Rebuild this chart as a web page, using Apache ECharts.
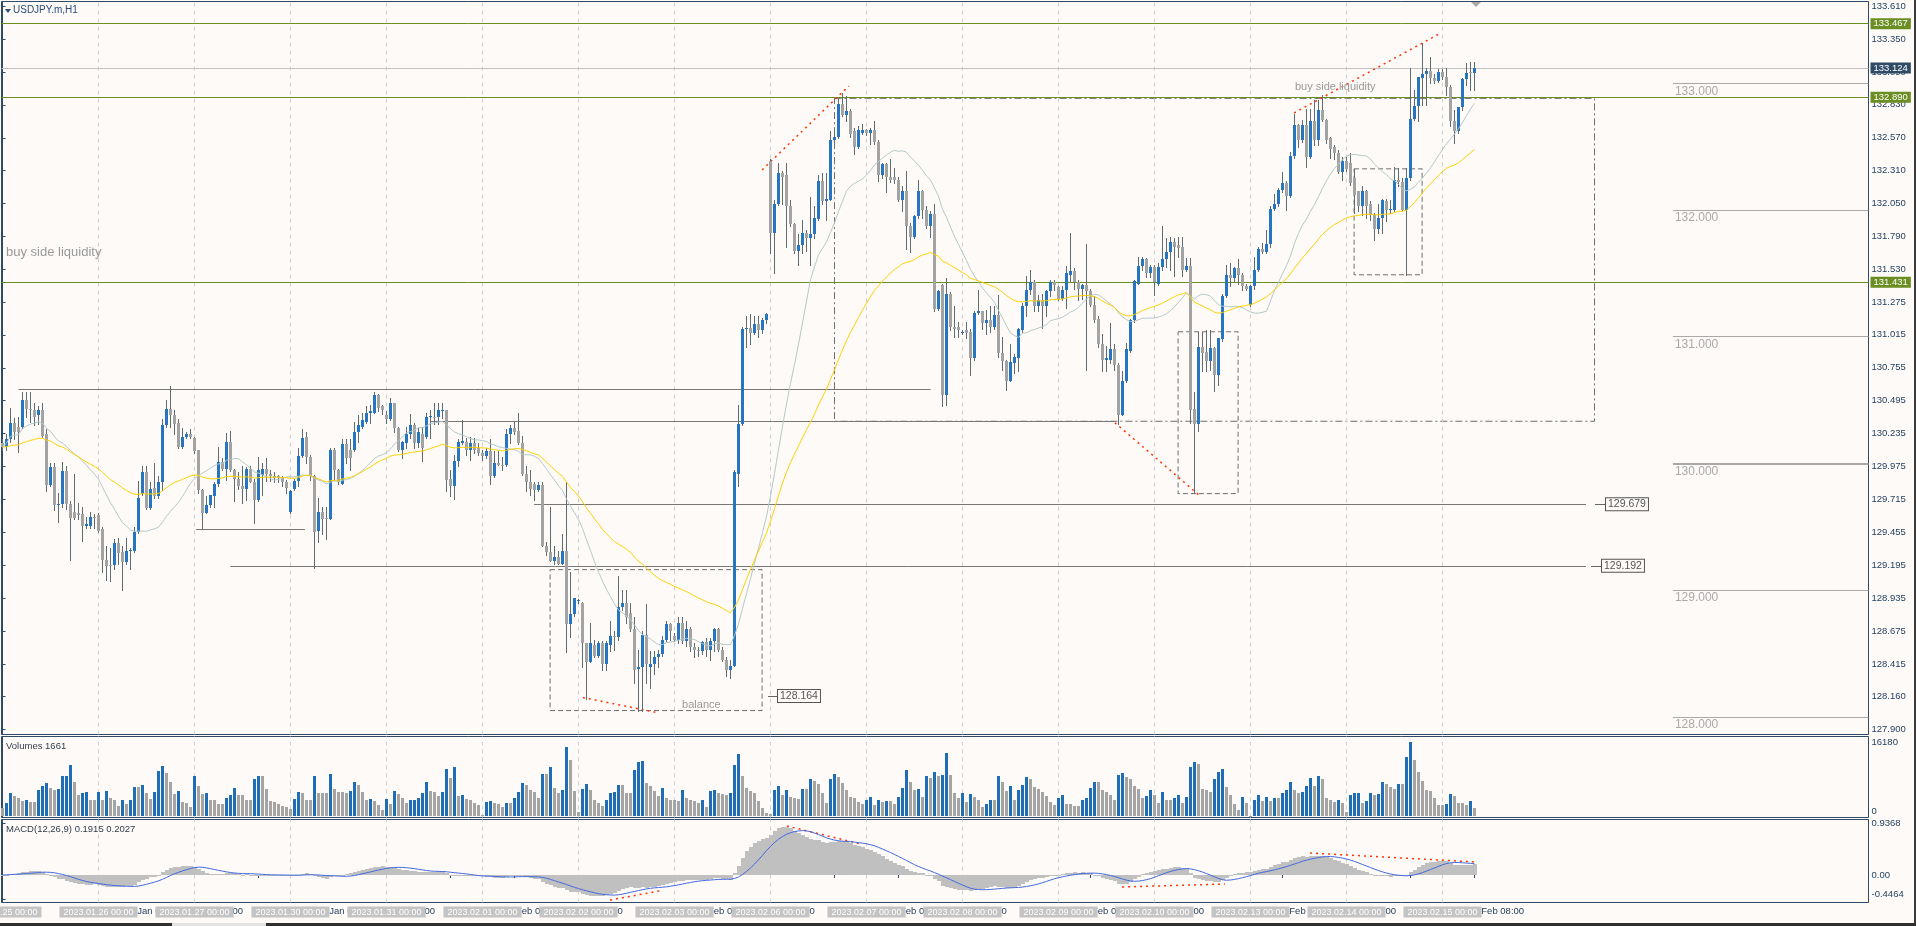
<!DOCTYPE html>
<html>
<head>
<meta charset="utf-8">
<title>USDJPY.m,H1</title>
<script src="https://cdn.jsdelivr.net/npm/echarts@6.0.0/dist/echarts.min.js"></script>
<style>
html,body{margin:0;padding:0;background:#fdfaf8;overflow:hidden;}
#chart{width:1916px;height:926px;}
</style>
</head>
<body>
<div id="chart"></div>
<script>
// ---------------- DATA (USDJPY.m, H1, 2023.01.25 00:00 -> 2023.02.15 08:00) ----------------
const days = ['2023.01.25','2023.01.26','2023.01.27','2023.01.30','2023.01.31','2023.02.01','2023.02.02','2023.02.03',
  '2023.02.06','2023.02.07','2023.02.08','2023.02.09','2023.02.10','2023.02.13','2023.02.14','2023.02.15'];

const opens = [
130.16,130.13,130.19,130.32,130.29,130.29,130.50,130.43,130.42,130.38,
130.42,130.23,129.83,129.97,129.67,129.68,129.94,129.68,129.62,129.61,
129.60,129.51,129.51,129.58,129.59,129.48,129.24,129.20,129.20,129.37,
129.30,129.22,129.31,129.31,129.46,129.76,129.93,129.65,129.81,129.74,
129.85,130.30,130.43,130.38,130.32,130.13,130.21,130.23,130.20,130.11,
129.79,129.61,129.67,129.74,129.84,130.01,129.96,130.17,129.95,129.88,
129.82,129.80,129.96,129.85,129.71,129.91,129.96,129.92,129.90,129.90,
129.895,129.85,129.62,129.80,129.86,130.06,130.21,130.05,129.90,129.47,
129.62,129.57,129.56,130.11,129.95,129.84,130.15,130.11,130.11,130.25,
130.29,130.33,130.40,130.40,130.54,130.45,130.38,130.35,130.48,130.28,
130.11,130.16,130.23,130.30,130.16,130.23,130.21,130.37,130.37,130.37,
130.42,130.42,129.88,129.82,130.02,130.16,130.17,130.11,130.16,130.12,
130.08,130.06,130.10,129.90,130.00,129.99,129.99,130.23,130.28,130.26,
130.16,129.92,129.85,129.84,129.79,129.83,129.35,129.30,129.23,129.26,
129.21,129.31,128.73,128.81,128.92,128.90,128.58,128.43,128.57,128.48,
128.58,128.42,128.57,128.64,128.63,128.87,128.90,128.82,128.69,128.38,
128.39,128.65,128.39,128.42,128.47,128.50,128.61,128.73,128.64,128.61,
128.74,128.60,128.69,128.55,128.53,128.52,128.59,128.53,128.60,128.69,
128.53,128.45,128.37,128.40,129.92,130.31,131.06,131.07,131.03,131.10,
131.05,131.13,132.39,131.82,132.05,132.29,132.28,132.03,131.89,131.68,
131.72,131.82,131.78,131.81,131.93,132.23,132.07,132.08,132.55,132.58,
132.84,132.75,132.78,132.62,132.50,132.61,132.63,132.61,132.63,132.54,
132.28,132.36,132.26,132.26,132.24,132.08,132.15,131.87,131.79,131.95,
132.15,132.00,131.87,131.97,131.22,131.41,130.54,131.34,131.08,131.08,
131.03,131.05,131.04,130.83,131.19,131.20,131.11,131.13,131.08,131.17,
130.87,130.81,130.65,130.79,130.83,131.05,131.24,131.37,131.43,131.24,
131.29,131.24,131.36,131.43,131.39,131.30,131.37,131.49,131.52,131.43,
131.38,131.41,131.36,131.25,131.14,130.94,130.82,130.82,130.90,130.78,
130.38,130.65,130.89,131.13,131.42,131.56,131.61,131.50,131.55,131.42,
131.55,131.61,131.67,131.75,131.72,131.71,131.53,131.56,130.43,130.31,
130.92,130.88,130.81,130.91,130.70,130.98,131.32,131.49,131.46,131.54,
131.49,131.40,131.25,131.40,131.53,131.69,131.67,131.73,132.01,132.05,
132.16,132.21,132.11,132.43,132.67,132.55,132.67,132.42,132.70,132.55,
132.79,132.71,132.57,132.50,132.45,132.30,132.39,132.37,132.25,132.15,
132.03,132.15,132.05,131.96,131.85,131.94,132.07,132.00,132.00,132.24,
132.22,132.00,132.25,132.72,132.82,133.04,133.07,133.10,133.04,133.02,
133.09,133.05,132.97,132.70,132.62,132.81,133.03,133.09,133.08];

const highs = [
130.19,130.23,130.44,130.36,130.37,130.56,130.56,130.56,130.48,130.45,
130.48,130.27,130.00,130.00,129.77,130.01,129.98,129.70,129.92,129.69,
129.66,129.58,129.62,129.60,129.61,129.50,129.35,129.33,129.40,129.41,
129.35,129.41,129.33,129.50,129.86,129.98,129.98,129.85,130.00,129.90,
130.35,130.50,130.61,130.42,130.35,130.28,130.25,130.27,130.21,130.11,
129.80,129.74,129.75,129.85,130.13,130.04,130.24,130.26,129.96,129.93,
129.98,129.97,129.98,129.88,130.05,130.00,130.04,129.95,129.93,129.91,
129.90,129.87,129.79,129.88,130.12,130.27,130.25,130.07,129.91,129.73,
129.66,129.66,130.12,130.12,129.96,130.19,130.19,130.19,130.33,130.38,
130.40,130.45,130.46,130.56,130.55,130.46,130.41,130.52,130.48,130.29,
130.18,130.29,130.39,130.32,130.28,130.29,130.40,130.42,130.48,130.48,
130.48,130.42,129.95,130.07,130.19,130.34,130.20,130.21,130.20,130.16,
130.11,130.12,130.19,130.10,130.10,130.05,130.27,130.30,130.33,130.40,
130.22,129.98,129.95,129.85,129.85,129.85,129.38,129.66,129.35,129.31,
129.44,129.85,129.14,128.94,128.93,128.91,128.58,128.74,128.61,128.60,
128.60,128.60,128.76,128.68,129.11,129.00,129.00,128.90,128.79,128.53,
128.68,128.89,128.52,128.52,128.53,128.64,128.76,128.74,128.66,128.79,
128.79,128.76,128.71,128.58,128.55,128.60,128.62,128.62,128.70,128.70,
128.55,128.47,128.45,129.95,130.46,131.08,131.16,131.18,131.16,131.16,
131.15,131.19,132.40,132.08,132.37,132.31,132.37,132.08,131.90,131.81,
131.92,131.84,132.10,132.03,132.28,132.29,132.29,132.62,132.62,132.88,
132.92,132.90,132.80,132.65,132.66,132.68,132.64,132.65,132.70,132.55,
132.37,132.37,132.40,132.33,132.26,132.19,132.31,131.90,131.96,132.24,
132.16,132.03,131.99,132.05,131.37,131.42,131.46,131.35,131.24,131.12,
131.05,131.12,131.06,131.20,131.37,131.20,131.21,131.24,131.24,131.33,
131.00,130.82,130.94,130.86,131.07,131.27,131.48,131.53,131.45,131.33,
131.34,131.37,131.45,131.45,131.40,131.40,131.56,131.82,131.54,131.45,
131.42,131.73,131.38,131.32,131.16,131.02,130.93,131.11,130.94,130.79,
130.73,130.95,131.14,131.45,131.63,131.63,131.62,131.57,131.57,131.58,
131.87,131.78,131.79,131.78,131.79,131.79,131.62,131.62,130.56,131.04,
131.04,131.05,131.05,130.92,130.99,131.34,131.57,131.58,131.55,131.61,
131.50,131.42,131.41,131.63,131.71,131.74,131.84,132.03,132.13,132.17,
132.30,132.23,132.46,132.76,132.68,132.71,132.80,132.80,132.87,132.87,
132.91,132.72,132.58,132.51,132.47,132.42,132.42,132.45,132.32,132.15,
132.19,132.16,132.07,131.98,132.05,132.09,132.09,132.08,132.34,132.33,
132.25,132.33,133.12,132.95,133.05,133.32,133.12,133.21,133.07,133.11,
133.11,133.12,132.99,132.79,132.81,133.04,133.16,133.17,133.17];

const lows = [
130.11,130.11,130.17,130.19,130.09,130.28,130.37,130.33,130.30,130.31,
130.21,129.78,129.82,129.63,129.54,129.66,129.64,129.24,129.56,129.56,
129.39,129.49,129.49,129.49,129.46,129.14,129.08,129.07,129.17,129.21,
129.00,129.21,129.17,129.30,129.45,129.75,129.64,129.64,129.73,129.73,
129.79,130.29,130.29,130.23,130.12,130.12,130.20,130.20,130.08,129.77,
129.48,129.61,129.66,129.66,129.82,129.95,129.87,129.94,129.70,129.80,
129.69,129.71,129.85,129.53,129.70,129.75,129.86,129.86,129.85,129.85,
129.82,129.77,129.61,129.79,129.82,130.05,130.00,129.87,129.175,129.38,
129.44,129.40,129.56,129.87,129.84,129.84,130.00,129.95,130.10,130.17,
130.28,130.32,130.32,130.40,130.41,130.39,130.32,130.34,130.25,130.10,
130.04,130.12,130.20,130.12,130.13,130.02,130.20,130.20,130.31,130.31,
130.36,129.78,129.74,129.72,129.98,130.15,130.07,130.03,130.08,130.07,
130.03,130.04,129.84,129.89,129.99,129.95,129.98,130.16,130.23,130.15,
129.91,129.78,129.75,129.71,129.78,129.35,129.28,129.23,129.21,129.21,
129.21,128.51,128.63,128.80,128.90,128.39,128.14,128.43,128.47,128.47,
128.37,128.37,128.52,128.53,128.61,128.84,128.74,128.68,128.27,128.05,
128.05,128.27,128.23,128.34,128.39,128.48,128.60,128.61,128.60,128.58,
128.58,128.56,128.52,128.47,128.48,128.50,128.48,128.45,128.52,128.52,
128.44,128.32,128.31,128.40,129.82,130.30,130.92,130.94,131.02,131.00,
131.03,131.11,131.66,131.50,132.04,132.05,131.71,131.87,131.66,131.57,
131.66,131.68,131.57,131.78,131.92,132.05,131.92,132.08,132.52,132.57,
132.74,132.70,132.58,132.44,132.49,132.60,132.59,132.52,132.52,132.23,
132.25,132.14,132.22,132.21,132.07,131.99,131.69,131.67,131.78,131.94,
131.94,131.86,131.79,131.20,131.21,130.45,130.46,131.05,131.00,131.00,
131.02,130.99,130.70,130.82,131.18,131.06,131.02,131.04,131.06,130.84,
130.74,130.58,130.65,130.71,130.73,131.04,131.16,131.34,131.20,131.20,
131.07,131.16,131.32,131.37,131.29,131.29,131.23,131.44,131.38,131.29,
131.30,130.74,131.24,131.12,130.92,130.73,130.73,130.79,130.74,130.31,
130.38,130.64,130.88,131.12,131.42,131.53,131.47,131.47,131.33,131.41,
131.53,131.55,131.53,131.48,131.63,131.48,131.52,130.32,129.77,130.26,
130.73,130.73,130.74,130.57,130.62,130.97,131.31,131.40,131.44,131.42,
131.37,131.37,131.24,131.38,131.52,131.66,131.66,131.71,132.00,132.03,
132.14,132.00,132.10,132.41,132.50,132.54,132.34,132.41,132.51,132.51,
132.70,132.53,132.41,132.40,132.29,132.24,132.31,132.20,131.98,131.99,
131.96,131.94,131.92,131.76,131.82,131.82,131.91,131.98,131.99,132.19,
132.00,131.49,132.24,132.71,132.70,132.83,132.83,133.00,133.00,133.01,
133.03,132.91,132.66,132.53,132.61,132.79,132.99,132.95,132.95];

const closes = [
130.13,130.19,130.32,130.25,130.25,130.50,130.43,130.42,130.37,130.42,
130.22,129.83,129.97,129.67,129.68,129.94,129.68,129.57,129.57,129.59,
129.51,129.52,129.58,129.575,129.47,129.24,129.19,129.19,129.37,129.29,
129.22,129.31,129.32,129.46,129.73,129.93,129.65,129.80,129.74,129.85,
130.30,130.43,130.38,130.31,130.13,130.21,130.23,130.21,130.10,129.79,
129.61,129.67,129.75,129.84,130.01,129.96,130.17,129.95,129.88,129.82,
129.80,129.96,129.85,129.71,129.95,129.96,129.92,129.90,129.885,129.885,
129.85,129.81,129.78,129.86,130.06,130.20,130.05,129.90,129.46,129.62,
129.56,129.56,130.11,129.95,129.85,130.15,130.04,130.04,130.25,130.30,
130.34,130.40,130.41,130.54,130.44,130.42,130.35,130.48,130.28,130.11,
130.17,130.23,130.30,130.16,130.25,130.12,130.37,130.375,130.365,130.42,
130.425,129.87,129.82,130.02,130.17,130.18,130.11,130.16,130.11,130.08,
130.06,130.10,129.90,130.00,129.99,129.985,130.23,130.28,130.25,130.16,
129.92,129.85,129.80,129.79,129.83,129.35,129.30,129.23,129.26,129.21,
129.31,128.73,128.81,128.94,128.92,128.58,128.43,128.58,128.48,128.58,
128.42,128.58,128.64,128.63,128.87,128.90,128.79,128.69,128.37,128.39,
128.65,128.42,128.42,128.47,128.50,128.61,128.73,128.68,128.61,128.74,
128.60,128.69,128.55,128.53,128.52,128.59,128.53,128.60,128.69,128.53,
128.45,128.37,128.40,129.93,130.31,131.06,131.07,131.03,131.10,131.05,
131.13,131.18,131.82,132.05,132.29,132.26,132.03,131.89,131.68,131.72,
131.82,131.78,131.81,131.94,132.23,132.07,132.09,132.55,132.58,132.84,
132.75,132.78,132.60,132.50,132.63,132.63,132.61,132.63,132.54,132.28,
132.36,132.26,132.24,132.24,132.08,132.15,131.87,131.79,131.95,132.15,
132.00,131.87,131.97,131.22,131.36,130.54,131.34,131.08,131.06,131.055,
131.04,131.03,130.83,131.19,131.20,131.11,131.13,131.08,131.17,130.87,
130.81,130.65,130.80,130.84,131.06,131.24,131.37,131.43,131.24,131.29,
131.24,131.36,131.43,131.41,131.30,131.37,131.50,131.52,131.43,131.38,
131.41,131.36,131.25,131.13,130.94,130.82,130.83,130.90,130.78,130.38,
130.65,130.90,131.13,131.44,131.56,131.61,131.50,131.55,131.43,131.55,
131.61,131.67,131.75,131.71,131.70,131.53,131.56,130.42,130.31,130.92,
130.87,130.81,130.91,130.70,130.99,131.32,131.49,131.46,131.54,131.49,
131.40,131.38,131.40,131.53,131.69,131.67,131.73,132.01,132.05,132.16,
132.21,132.11,132.43,132.67,132.55,132.67,132.42,132.70,132.55,132.79,
132.71,132.55,132.48,132.45,132.30,132.39,132.32,132.21,132.12,132.03,
132.15,132.03,131.96,131.85,131.94,132.08,132.00,132.01,132.24,132.22,
132.00,132.25,132.72,132.82,133.05,133.07,133.10,133.04,133.02,133.09,
133.05,132.97,132.70,132.62,132.81,133.03,133.08,133.08,133.124];

const volumes = [
1840,2920,5100,4280,3940,3260,3400,3060,3060,5640,
6530,7140,6120,5640,5980,8700,8840,11080,7480,4490,
4960,5300,3600,3470,5170,3470,5510,3940,3400,2240,
3400,2580,3400,6320,6320,6870,4960,3740,5300,9860,
10950,9380,7480,4760,5440,3060,2920,2040,8840,6660,
4760,4960,3470,3470,2720,2580,3940,4620,6120,4620,
4620,3600,3600,8020,8700,8700,5980,3260,3130,2720,
2240,1900,1430,3810,5170,4960,3600,3400,8700,5100,
5100,5100,9180,5980,5300,5300,4960,5440,7340,6870,
5300,3600,3810,3260,2450,1360,3740,2720,5510,4760,
3940,2920,3470,3600,3940,5100,7480,5510,5300,4280,
5300,10270,8360,10610,4280,4620,3740,3600,2920,2450,
200,3060,3260,2790,2580,1900,2920,2920,3940,5300,
7140,6870,5640,5300,3940,9250,9180,10740,6120,4960,
5640,15160,12310,5440,880,5980,7000,5640,3600,2790,
2240,3600,5100,5300,6870,6870,5100,4960,10060,11760,
12100,7140,6530,5440,4420,6190,3940,3600,3600,3260,
5640,3940,3600,3260,2920,3470,1900,5440,5780,4960,
4830,4620,5100,11220,13460,8700,6120,5440,5100,3260,
1770,680,540,5780,6660,4620,5640,4080,3940,3810,
5980,5980,8020,7680,7000,4960,2920,8020,9250,8500,
7210,5640,4080,3940,3060,2720,3600,4080,2450,3600,
3130,3260,3260,2720,4080,6120,10060,7480,5780,5980,
4080,8700,8360,9520,8700,9040,13670,9040,4960,3940,
5100,3060,4760,4150,3600,1900,2580,3600,3600,8840,
7340,5440,6530,3600,5640,6800,8500,8020,6320,5980,
5300,4280,3060,2450,3940,4620,2720,2720,2240,2240,
3600,3940,6120,7480,7340,5640,5300,4620,3600,9040,
9380,8500,8020,6660,5980,3940,4280,5640,4500,2920,
5300,3600,3400,3940,4620,2920,4080,10740,11780,11450,
5980,5780,5300,8020,9730,10200,6320,4620,2720,1220,
4080,2920,100,3600,4620,3260,4080,3260,3940,3940,
5100,5640,7340,5640,4960,5300,6660,8360,6660,8700,
8020,3940,3600,3130,3470,2920,880,4620,4960,5100,
2920,3260,4960,4620,4760,7340,7000,6320,5850,7000,
7000,12920,16180,12240,9730,7680,5640,5440,3940,2450,
2450,2720,4760,4280,2920,2920,2450,3260,1661];

// right-axis tick labels (as printed by the terminal)
const priceTicks = [133.610,133.350,133.090,132.830,132.570,132.310,132.050,131.790,131.530,131.275,131.015,
  130.755,130.495,130.235,129.975,129.715,129.455,129.195,128.935,128.675,128.415,128.160,127.900];
const volumeTickTop = 16180;
const macdTicks = [0.9368, 0];
const macdTickBottom = -0.4464;
const macdTitle = 'MACD(12,26,9) 0.1915 0.2027';

// chart objects (time in bar index, price in yen)
const greenLevels = [133.467, 132.890, 131.431];
const bidPrice = 133.124;
const roundLevels = [133, 132, 131, 130, 129, 128];
const roundStartBar = 417.6;
const srLevels = [
  {price:130.582, from:4, to:232},
  {price:130.330, from:107, to:278},
  {price:129.483, from:48.4, to:75.6},
  {price:129.192, from:57, to:395.875},
  {price:129.679, from:132.9, to:395.875},
  {price:128.164, from:-0.5, to:191.125}
];
const priceTags = [
  {price:129.679, from:398.125, to:400.625},
  {price:129.192, from:397.125, to:399.625},
  {price:128.164, from:191.375, to:193.625}
];
const boxes = [
  {x1:136.9, x2:189.9, p1:129.162, p2:128.050, dash:[5,3]},
  {x1:208.0, x2:398.0, p1:132.881, p2:130.333, dash:[7,3,2,3]},
  {x1:293.9, x2:308.9, p1:131.039, p2:129.762, dash:[5,3]},
  {x1:337.9, x2:354.9, p1:132.325, p2:131.489, dash:[5,3]}
];
const trendLines = [
  [145.1,128.153,163.6,128.034],
  [189.9,132.317,211.6,132.979],
  [278.1,130.321,299.6,129.738],
  [322.9,132.766,359.6,133.397]
];
const macdTrendLines = [
  [151.9,-0.455,164.6,-0.285],
  [196.1,0.891,214.6,0.564],
  [279.9,-0.218,305.6,-0.164],
  [326.9,0.400,368.4,0.236]
];
const annotations = [
  {text:'buy side liquidity', bar:0.875, price:131.662, size:13},
  {text:'buy side liquidity', bar:323.1, price:132.970, size:11},
  {text:'balance', bar:169.9, price:128.097, size:11}
];

// ---------------- INDICATORS (computed from the closes) ----------------
function sma(src, n){
  return src.map((_, i) => { const s = Math.max(0, i - n + 1); let t = 0; for (let k = s; k <= i; k++) t += src[k]; return t / (i - s + 1); });
}
function ema(src, n){
  const k = 2 / (n + 1); let e = src[0];
  return src.map((v, i) => (e = i === 0 ? v : e + k * (v - e)));
}
const N = closes.length;
const ma20 = sma(closes, 20);
const ma50 = ema(closes, 50);
const e12 = ema(closes, 12), e26 = ema(closes, 26);
const macdMain = e12.map((v, i) => v - e26[i]);
const macdSignal = sma(macdMain, 9);

// ---------------- CHART ----------------
const FONT = '"Liberation Sans", Arial, sans-serif';
const AXIS = '#2d4b66', TXT = '#1d3b5a', BG = '#fdfaf8';
const X_MIN = -0.25, X_MAX = X_MIN + 1867 / 4;
const LABEL_SHIFT = -1.6;   // time text offset relative to its tick mark (in bars)
const monthName = {'01':'Jan','02':'Feb'};
const timeTicks = []; for (let b = 0; b < N; b += 16) timeTicks.push(b);
const dayTicks = days.map((_, k) => 24 * k);
function timeLabel(b){
  const d = days[Math.floor(b / 24)]; if (!d) return '';
  const [y, m, dd] = d.split('.'); const h = b % 24;
  if (b === 0) return parseInt(dd) + ' ' + monthName[m] + ' ' + y;
  return parseInt(dd) + ' ' + monthName[m] + ' ' + String(h).padStart(2, '0') + ':00';
}

function baseX(grid){
  return {type:'value', gridIndex:grid, position:'bottom', min:X_MIN, max:X_MAX, axisLine:{show:false}, axisTick:{show:false},
    axisLabel:{show:false}, splitLine:{show:false}};
}
const dayLineItems = dayTicks.slice(1).map(b => ({xAxis:b, lineStyle:{color:'#cfcfcf', type:[4,4], width:1}}));

function seg(x1, p1, x2, p2, lineStyle, label){
  return [{coord:[x1, p1], lineStyle, label: label || {show:false}}, {coord:[x2, p2]}];
}

const mainMarkLines = [].concat(
  dayLineItems,
  roundLevels.map(p => seg(roundStartBar, p, X_MAX, p, {color:'#a9a9a9', width: p === 130 ? 2 : 1, type:'solid'},
    {show:true, position:'insideStartBottom', formatter: p.toFixed(3), color:'#a9a9a9', fontSize:12, fontFamily:FONT, distance:2})),
  srLevels.map(s => seg(s.from, s.price, s.to, s.price, {color:'#777', width:1, type:'solid'})),
  priceTags.map(t => seg(t.from, t.price, t.to, t.price, {color:'#666', width:1, type:'solid'},
    {show:true, position:'end', distance:1, formatter: t.price.toFixed(3), color:'#555', fontSize:10.5, fontFamily:FONT,
     backgroundColor:BG, borderColor:'#555', borderWidth:1, padding:[1,2,0,2]})),
  [{yAxis:bidPrice, lineStyle:{color:'#c2c2c2', width:1, type:'solid'},
    label:{show:true, position:'end', distance:2, formatter: bidPrice.toFixed(3), color:'#fff', backgroundColor:'#2f4b65',
      padding:[1,3,0,3], fontSize:9.5, fontFamily:FONT}}],
  greenLevels.map(p => ({yAxis:p, lineStyle:{color:'#6b8e23', width:1, type:'solid'},
    label:{show:true, position:'end', distance:2, formatter: p.toFixed(3), color:'#fff', backgroundColor:'#6b8e23',
      padding:[1,3,0,3], fontSize:9.5, fontFamily:FONT}})),
  trendLines.map(t => seg(t[0], t[1], t[2], t[3], {color:'#ff3300', width:1.5, type:[2,4]}))
);

const gridBase = {left:1.5, width:1867, show:true, borderColor:AXIS, borderWidth:1, backgroundColor:'transparent',
  containLabel:false, outerBoundsMode:'none'};

const chart = echarts.init(document.getElementById('chart'), null, {renderer:'canvas'});
const option = {
  animation:false,
  backgroundColor:BG,
  textStyle:{fontFamily:FONT},
  grid:[
    Object.assign({}, gridBase, {top:1.5, height:733}),
    Object.assign({}, gridBase, {top:736.5, height:81}),
    Object.assign({}, gridBase, {top:819.5, height:83})
  ],
  xAxis:[
    baseX(0), baseX(1),
    Object.assign(baseX(2), {
      axisTick:{show:true, customValues:timeTicks, length:3, lineStyle:{color:AXIS}}
    }),
    Object.assign(baseX(2), {
      axisLabel:{show:true, customValues:timeTicks.map(b => b + LABEL_SHIFT), formatter:v => timeLabel(Math.round(v - LABEL_SHIFT)),
        align:'left', margin:4, color:TXT, fontSize:9.5, fontFamily:FONT}
    }),
    Object.assign(baseX(2), {
      z:10,
      axisLabel:{show:true, customValues:dayTicks, formatter:v => days[Math.round(v / 24)] + ' 00:00', align:'center', margin:4,
        color:'#ffffff', backgroundColor:'#c4c4c4', padding:[1,4,0,4], lineHeight:10, fontSize:9, fontFamily:FONT}
    })
  ],
  yAxis:[
    {type:'value', gridIndex:0, position:'right', min:127.861, max:133.6455, splitLine:{show:false},
      axisLine:{show:true, lineStyle:{color:AXIS}},
      axisTick:{show:true, customValues:priceTicks, length:3, lineStyle:{color:AXIS}},
      axisLabel:{customValues:priceTicks, formatter:v => v.toFixed(3), color:TXT, fontSize:9.5, fontFamily:FONT, margin:3}},
    {type:'value', gridIndex:1, position:'right', min:-328, max:17383, splitLine:{show:false},
      axisLine:{show:true, lineStyle:{color:AXIS}},
      axisTick:{show:false},
      axisLabel:{customValues:[volumeTickTop], formatter:v => String(Math.round(v)), color:TXT, fontSize:9.5, fontFamily:FONT, margin:3}},
    {type:'value', gridIndex:1, position:'right', min:-328, max:17383, splitLine:{show:false},
      axisLine:{show:false}, axisTick:{show:false},
      axisLabel:{customValues:[0], formatter:() => '0', verticalAlign:'bottom', color:TXT, fontSize:9.5, fontFamily:FONT, margin:3}},
    {type:'value', gridIndex:2, position:'right', min:-0.5, max:1.0091, splitLine:{show:false},
      axisLine:{show:true, lineStyle:{color:AXIS}},
      axisTick:{show:true, customValues:macdTicks, length:3, lineStyle:{color:AXIS}},
      axisLabel:{customValues:macdTicks, formatter:v => (Math.abs(v) < 1e-9 ? '0.00' : v.toFixed(4)), color:TXT, fontSize:9.5, fontFamily:FONT, margin:3}},
    {type:'value', gridIndex:2, position:'right', min:-0.5, max:1.0091, splitLine:{show:false},
      axisLine:{show:false}, axisTick:{show:true, customValues:[macdTickBottom], length:3, lineStyle:{color:AXIS}},
      axisLabel:{customValues:[macdTickBottom], formatter:v => v.toFixed(4), verticalAlign:'bottom', color:TXT, fontSize:9.5, fontFamily:FONT, margin:3}}
  ],
  series:[
    {type:'line', name:'objects', xAxisIndex:0, yAxisIndex:0, data:[], z:1, silent:true, symbol:'none',
      markLine:{silent:true, symbol:['none','none'], z:1, animation:false, label:{show:false}, data:mainMarkLines},
      markArea:{silent:true, z:1, label:{show:false},
        data: boxes.map(b => [{coord:[b.x1, b.p1], itemStyle:{color:'rgba(0,0,0,0)', borderColor:'#6f6f6f', borderWidth:1, borderType:b.dash}}, {coord:[b.x2, b.p2]}])}
    },
    {type:'custom', name:'USDJPY', xAxisIndex:0, yAxisIndex:0, z:2, silent:true,
      encode:{x:0, y:[1,2,3,4]},
      data: closes.map((c, i) => [i, opens[i], highs[i], lows[i], c]),
      renderItem:(params, api) => {
        const i = api.value(0), o = api.value(1), c = api.value(4);
        const h = Math.max(api.value(2), o, c), l = Math.min(api.value(3), o, c);
        const x = api.coord([i, o])[0];
        const yo = Math.round(api.coord([i, o])[1]), yc = Math.round(api.coord([i, c])[1]);
        const yh = Math.round(api.coord([i, h])[1]), yl = Math.round(api.coord([i, l])[1]);
        const xc = Math.round(x - 0.5) + 0.5;
        const top = Math.min(yo, yc), bot = Math.max(yo, yc);
        return {type:'group', children:[
          {type:'line', shape:{x1:xc, y1:yh, x2:xc, y2:yl + 1}, style:{stroke:'#5b6d72', lineWidth:1}},
          {type:'rect', shape:{x:xc - 1.5, y:top, width:3, height:Math.max(1, bot - top)}, style:{fill: c >= o ? '#2675c0' : '#a3a3a3'}}
        ]};
      }
    },
    {type:'line', name:'MA20', xAxisIndex:0, yAxisIndex:0, z:3, silent:true, symbol:'none',
      data: ma20.map((v, i) => [i, v]), lineStyle:{color:'#b4c9c9', width:1}},
    {type:'line', name:'EMA50', xAxisIndex:0, yAxisIndex:0, z:3, silent:true, symbol:'none',
      data: ma50.map((v, i) => [i, v]), lineStyle:{color:'#ffd200', width:1}},
    {type:'custom', name:'texts', xAxisIndex:0, yAxisIndex:0, z:4, silent:true, encode:{x:0, y:1},
      data: annotations.map(a => [a.bar, a.price]),
      renderItem:(params, api) => {
        const a = annotations[params.dataIndex];
        const p = api.coord([api.value(0), api.value(1)]);
        return {type:'text', x:p[0], y:p[1], style:{text:a.text, fill:'#9a9a9a', font: a.size + 'px ' + FONT, align:'left', verticalAlign:'middle'}};
      }
    },
    {type:'line', name:'volGrid', xAxisIndex:1, yAxisIndex:1, data:[], silent:true, symbol:'none', z:0,
      markLine:{silent:true, symbol:['none','none'], z:0, label:{show:false}, data:dayLineItems}},
    {type:'custom', name:'Volumes', xAxisIndex:1, yAxisIndex:1, z:2, silent:true, encode:{x:0, y:1},
      data: volumes.map((v, i) => [i, v, i > 0 && v > volumes[i - 1] ? 1 : 0]),
      renderItem:(params, api) => {
        const i = api.value(0), v = api.value(1);
        const p0 = api.coord([i, 0]), p1 = api.coord([i, v]);
        const x = Math.round(p0[0] - 1.5), y0 = Math.round(p0[1]), y1 = Math.round(p1[1]);
        return {type:'rect', shape:{x:x, y:y1, width:3, height:Math.max(1, y0 - y1)}, style:{fill: api.value(2) ? '#1f6db5' : '#a4a4a4'}};
      }
    },
    {type:'custom', name:'MACD', xAxisIndex:2, yAxisIndex:3, z:2, silent:true, encode:{x:0, y:1},
      data: macdMain.map((v, i) => [i, v]),
      renderItem:(params, api) => {
        const i = api.value(0), v = api.value(1);
        const p0 = api.coord([i, 0]), p1 = api.coord([i, v]);
        const x = Math.round(p0[0] - 2), y0 = Math.round(p0[1]), y1 = Math.round(p1[1]);
        return {type:'rect', shape:{x:x, y:Math.min(y0, y1), width:4, height:Math.max(1, Math.abs(y0 - y1))}, style:{fill:'#c0c0c0'}};
      }
    },
    {type:'line', name:'Signal', xAxisIndex:2, yAxisIndex:3, z:3, silent:true, symbol:'none',
      data: macdSignal.map((v, i) => [i, v]), lineStyle:{color:'#4169e1', width:1},
      markLine:{silent:true, symbol:['none','none'], z:1, label:{show:false},
        data: [].concat(dayLineItems, macdTrendLines.map(t => seg(t[0], t[1], t[2], t[3], {color:'#ff3300', width:1.5, type:[2,4]})))}
    }
  ],
  graphic:[
    {type:'polygon', z:100, shape:{points:[[5,9],[11,9],[8,13]]}, style:{fill:'#2a4d7a'}},
    {type:'text', z:100, x:13, y:5, style:{text:'USDJPY.m,H1', fill:'#2a4d7a', font:'10px ' + FONT}},
    {type:'text', z:100, x:6, y:741, style:{text:'Volumes ' + volumes[N - 1], fill:'#333d4a', font:'9.5px ' + FONT}},
    {type:'text', z:100, x:6, y:824, style:{text:macdTitle, fill:'#333d4a', font:'9.5px ' + FONT}},
    {type:'polygon', z:100, shape:{points:[[1471,2],[1481,2],[1476,7]]}, style:{fill:'#a8a8a8'}},
    {type:'rect', z:100, shape:{x:1914, y:0, width:2, height:926}, style:{fill:'#3c3c3c'}},
    {type:'rect', z:100, shape:{x:0, y:923, width:1916, height:3}, style:{fill:'#2f2f2f'}},
    {type:'rect', z:101, shape:{x:172, y:923, width:94, height:3}, style:{fill:'#e2e2e2'}}
  ]
};
chart.setOption(option);
</script>
</body>
</html>
